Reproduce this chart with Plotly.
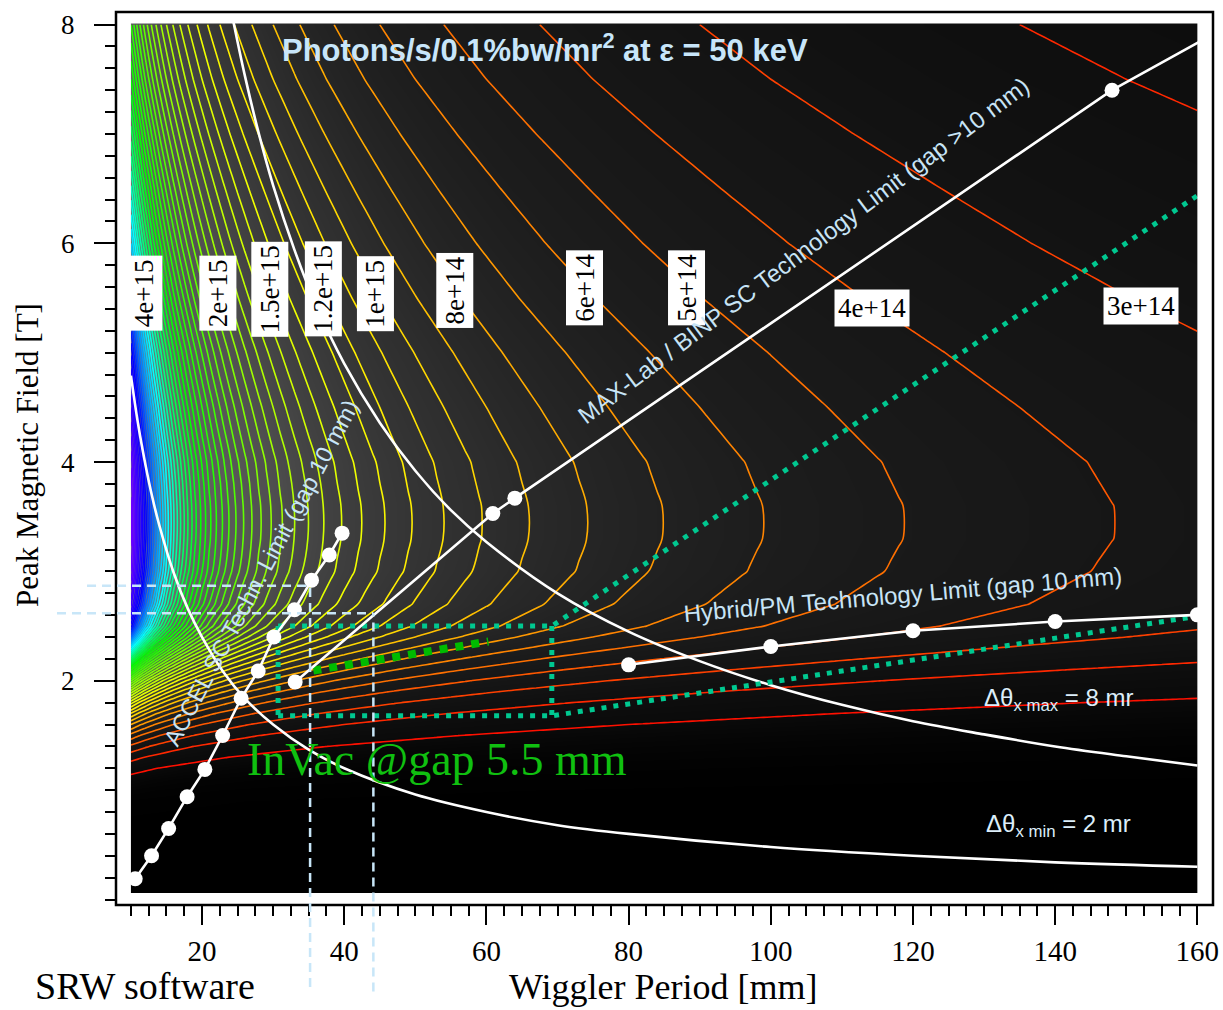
import numpy as np
import plotly.graph_objects as go

# ---------------- data ----------------
# Flux-density map. Along each row (fixed peak field) the labelled contours show that
# flux density x wiggler period is constant; this product was read off the contour
# crossings (units: 1e16 photons/s/0.1%bw/mr^2 * mm).
field_rows_T = [0.05, 0.4, 0.7, 0.9, 1.0, 1.1, 1.2, 1.3, 1.4, 1.5, 1.6, 1.7,
                1.8, 1.9, 2.0, 2.1, 2.2, 2.3, 2.4, 2.5, 2.7, 3.0, 3.3, 3.6,
                4.0, 4.5, 5.0, 5.5, 6.0, 6.5, 7.0, 7.5, 8.0]
flux_times_period = [0.0, 0.0, 0.0009, 0.013, 0.0335, 0.072, 0.137, 0.236,
                     0.376, 0.563, 0.80, 1.09, 1.44, 1.85, 2.31, 2.83, 3.38,
                     3.95, 4.50, 4.95, 5.45, 5.80, 5.93, 5.93, 5.78, 5.40,
                     4.98, 4.52, 4.10, 3.72, 3.35, 3.00, 2.70]
period_columns_mm = np.arange(10, 161, 1)
level_start, level_end, level_step = 1e14, 5.9e15, 1e14

# contour labels
label_text = ["4e+15", "2e+15", "1.5e+15", "1.2e+15", "1e+15", "8e+14", "6e+14",
              "5e+14", "4e+14", "3e+14"]
label_period = [11.77, 22.18, 29.57, 37.10, 44.34, 55.60, 73.82, 88.17, 114.27, 152.12]
label_field = [5.54, 5.54, 5.58, 5.58, 5.54, 5.57, 5.59, 5.59, 5.41, 5.43]
label_vertical = [True, True, True, True, True, True, True, True, False, False]

# horizontal-fan-angle curves
dtheta_max_period = [24.4, 26, 28, 30, 33, 36, 40, 45, 50, 55, 60, 70, 80, 90, 100,
                     110, 120, 130, 140, 150, 160]
dtheta_max_field = [8.03, 7.54, 7.0, 6.53, 5.94, 5.44, 4.9, 4.36, 3.92, 3.56, 3.27,
                    2.8, 2.45, 2.18, 1.96, 1.78, 1.63, 1.51, 1.4, 1.31, 1.225]
dtheta_min_period = [10, 11, 12, 13, 14, 16, 18, 20, 23, 26, 30, 35, 40, 50, 60, 70,
                     80, 100, 120, 140, 160]
dtheta_min_field = [4.79, 4.35, 3.99, 3.68, 3.42, 2.99, 2.66, 2.40, 2.08, 1.84, 1.60,
                    1.37, 1.20, 0.96, 0.80, 0.68, 0.60, 0.48, 0.40, 0.34, 0.30]

# technology limits
accel_period = [10.6, 12.9, 15.3, 17.9, 20.4, 22.9, 25.5, 27.9, 30.1, 33.0, 35.4, 37.9, 39.7]
accel_field = [0.19, 0.40, 0.65, 0.94, 1.19, 1.50, 1.84, 2.09, 2.40, 2.65, 2.92, 3.15, 3.35]
maxlab_period = [33.1, 60.9, 64.0, 148.0, 160.2]
maxlab_field = [1.99, 3.53, 3.67, 7.40, 7.84]
maxlab_marked = [True, True, True, True, False]
hybrid_period = [80, 100, 120, 140, 160]
hybrid_field = [2.146, 2.313, 2.457, 2.542, 2.603]

# in-vacuum region (teal dotted outline) and green dotted segment
teal_period = [30.7, 69.2, 163.2, None, 30.7, 69.2, 163.0, None, 30.7, 30.7, None, 69.2, 69.2]
teal_field = [2.50, 2.50, 6.575, None, 1.68, 1.68, 2.62, None, 2.50, 1.68, None, 2.50, 1.68]
green_period = [35.66, 60.28]
green_field = [2.094, 2.359]

# light-blue dashed guides
guide_period = [35.2, 44.1]
guide_field = [2.868, 2.618]

x_range = [7.9, 162.2]
y_range = [-0.05, 8.115]

# ---------------- figure ----------------
z = np.array(flux_times_period)[:, None] * 1e16 / period_columns_mm[None, :]

gray = [[0.0, "#000000"], [0.0167, "#0a0a0a"], [0.05, "#131313"], [0.1, "#1d1d1d"],
        [0.167, "#2e2e2e"], [0.333, "#505050"], [0.5, "#646464"], [0.667, "#727272"],
        [1.0, "#7e7e7e"]]
stops_F = [0.1, 0.3, 0.5, 0.7, 0.9, 1.0, 1.2, 1.4, 1.7, 2.1, 2.6, 3.0, 3.5, 3.9, 4.4,
           4.9, 5.9]
stops_c = ["#ff1000", "#ff4000", "#ff7000", "#ff9800", "#ffc000", "#ffd800", "#ffee00",
           "#f0ff00", "#c0ff00", "#80ff00", "#30ff00", "#00ff00", "#00ff80", "#00ffff",
           "#0080ff", "#0000ff", "#7000ff"]
rainbow = [[min(1.0, max(0.0, round((f - 0.1) / 5.8, 4))), c] for f, c in zip(stops_F, stops_c)]
rainbow[-1][0] = 1.0

fig = go.Figure()
fig.add_trace(go.Heatmap(x=period_columns_mm, y=field_rows_T, z=z, zmin=0, zmax=6e15,
                         colorscale=gray, zsmooth="best", showscale=False, hoverinfo="skip"))
fig.add_trace(go.Contour(x=period_columns_mm, y=field_rows_T, z=z,
                         contours=dict(start=level_start, end=level_end, size=level_step,
                                       coloring="lines", showlabels=False),
                         colorscale=rainbow, line=dict(width=1.6, smoothing=1),
                         showscale=False, hoverinfo="skip"))

white_line = dict(color="white", width=2.6)
fig.add_trace(go.Scatter(x=dtheta_max_period, y=dtheta_max_field, mode="lines",
                         line=dict(color="white", width=2.6, shape="spline")))
fig.add_trace(go.Scatter(x=dtheta_min_period, y=dtheta_min_field, mode="lines",
                         line=dict(color="white", width=2.6, shape="spline")))
fig.add_trace(go.Scatter(x=teal_period, y=teal_field, mode="lines",
                         line=dict(color="#00c890", width=5, dash="5px,7px")))
fig.add_trace(go.Scatter(x=green_period, y=green_field, mode="lines",
                         line=dict(color="#00bb00", width=8, dash="8px,8px")))
fig.add_trace(go.Scatter(x=accel_period, y=accel_field, mode="lines+markers",
                         line=white_line, marker=dict(color="white", size=15)))
fig.add_trace(go.Scatter(x=maxlab_period, y=maxlab_field, mode="lines", line=white_line))
fig.add_trace(go.Scatter(x=[p for p, m in zip(maxlab_period, maxlab_marked) if m],
                         y=[f for f, m in zip(maxlab_field, maxlab_marked) if m],
                         mode="markers", marker=dict(color="white", size=15)))
fig.add_trace(go.Scatter(x=hybrid_period, y=hybrid_field, mode="lines+markers",
                         line=white_line, marker=dict(color="white", size=15)))

shapes = [
    dict(type="rect", xref="x", yref="y", x0=x_range[0], x1=10, y0=y_range[0], y1=y_range[1]),
    dict(type="rect", xref="x", yref="y", x0=160, x1=x_range[1], y0=y_range[0], y1=y_range[1]),
    dict(type="rect", xref="x", yref="y", x0=x_range[0], x1=x_range[1], y0=y_range[0], y1=0.06),
    dict(type="rect", xref="x", yref="y", x0=x_range[0], x1=x_range[1], y0=8.01, y1=y_range[1]),
]
for s in shapes:
    s.update(fillcolor="white", line=dict(width=0), layer="above")
shapes.append(dict(type="rect", xref="paper", yref="paper", x0=0, x1=1, y0=0, y1=1,
                   line=dict(color="black", width=2.5), layer="above"))


def ypaper(v):
    return (v - y_range[0]) / (y_range[1] - y_range[0])


guide_line = dict(color="#c8e6f8", width=2.5, dash="9px,6px")
guide_left = [-0.0264, -0.0538]
guide_bottom = [-0.0918, -0.097]
for p, f, xl, yb in zip(guide_period, guide_field, guide_left, guide_bottom):
    shapes.append(dict(type="line", xref="paper", yref="y", x0=xl,
                       x1=(p - x_range[0]) / (x_range[1] - x_range[0]), y0=f, y1=f,
                       line=guide_line, layer="above"))
    shapes.append(dict(type="line", xref="x", yref="paper", x0=p, x1=p, y0=yb,
                       y1=ypaper(f), line=guide_line, layer="above"))

ann = []
for t, p, f, v in zip(label_text, label_period, label_field, label_vertical):
    ann.append(dict(x=p, y=f, xref="x", yref="y", text=t,
                    textangle=-90 if v else 0, bgcolor="white", borderpad=3,
                    font=dict(family="Liberation Serif", size=27, color="black")))

lb = "#c8e4f6"
ann += [
    dict(x=68.3, y=7.79, text="<b>Photons/s/0.1%bw/mr<sup>2</sup> at \u03b5 = 50 keV</b>",
         font=dict(family="Liberation Sans Narrow, Liberation Sans", size=31, color="#c8e6fa")),
    dict(x=104.6, y=5.93, text="MAX-Lab / BINP SC Technology Limit (gap >10 mm)",
         textangle=-37, font=dict(family="Liberation Sans", size=24, color=lb)),
    dict(x=28.3, y=2.99, text="ACCEL SC Techn. Limit (gap 10 mm)",
         textangle=-62, font=dict(family="Liberation Sans", size=23.5, color=lb)),
    dict(x=118.6, y=2.79, text="Hybrid/PM Technology Limit (gap 10 mm)",
         textangle=-5, font=dict(family="Liberation Sans", size=24, color=lb)),
    dict(x=140.5, y=1.83, text="\u0394\u03b8<sub>x max</sub> = 8 mr",
         font=dict(family="Liberation Sans", size=24, color="#dceefa")),
    dict(x=140.5, y=0.68, text="\u0394\u03b8<sub>x min</sub> = 2 mr",
         font=dict(family="Liberation Sans", size=24, color="#dceefa")),
    dict(x=53.07, y=1.28, text="InVac @gap 5.5 mm",
         font=dict(family="Liberation Serif", size=46, color="#10c010")),
]
for a in ann:
    a.update(xref="x", yref="y", yanchor="middle")

bottom_edge = -0.1170
ann += [
    dict(x=-0.0802, y=0.504, xref="paper", yref="paper", text="Peak Magnetic Field [T]",
         textangle=-90, yanchor="middle",
         font=dict(family="Liberation Serif", size=31, color="black")),
    dict(x=0.4986, y=bottom_edge, xref="paper", yref="paper", text="Wiggler Period [mm]",
         yanchor="bottom", font=dict(family="Liberation Serif", size=36, color="black")),
    dict(x=0.0264, y=bottom_edge, xref="paper", yref="paper", text="SRW software",
         yanchor="bottom", font=dict(family="Liberation Serif", size=38, color="black")),
]
for a in ann:
    a.update(showarrow=False, xanchor="center")

fig.update_layout(
    width=1223, height=1010,
    margin=dict(l=116, r=10, t=12, b=105, autoexpand=False),
    paper_bgcolor="white", plot_bgcolor="white",
    showlegend=False,
    shapes=shapes, annotations=ann,
    xaxis=dict(range=x_range, showgrid=False, zeroline=False, showline=False,
               ticks="outside", ticklen=19, tickwidth=2, tickcolor="black",
               tick0=0, dtick=20, ticklabelstandoff=1, automargin=False,
               tickfont=dict(family="Liberation Serif", size=29, color="black"),
               minor=dict(ticks="outside", ticklen=10, tickwidth=1.5, tickcolor="black",
                          tickmode="linear", tick0=0, dtick=2.5, showgrid=False)),
    yaxis=dict(range=y_range, showgrid=False, zeroline=False, showline=False,
               ticks="outside", ticklen=21, tickwidth=2, tickcolor="black",
               tickmode="array", tickvals=[2, 4, 6, 8], ticklabelstandoff=14,
               automargin=False,
               tickfont=dict(family="Liberation Serif", size=27, color="black"),
               minor=dict(ticks="outside", ticklen=10, tickwidth=1.5, tickcolor="black",
                          tickmode="linear", tick0=0, dtick=0.2, showgrid=False)),
)

fig.write_html("out.html")
